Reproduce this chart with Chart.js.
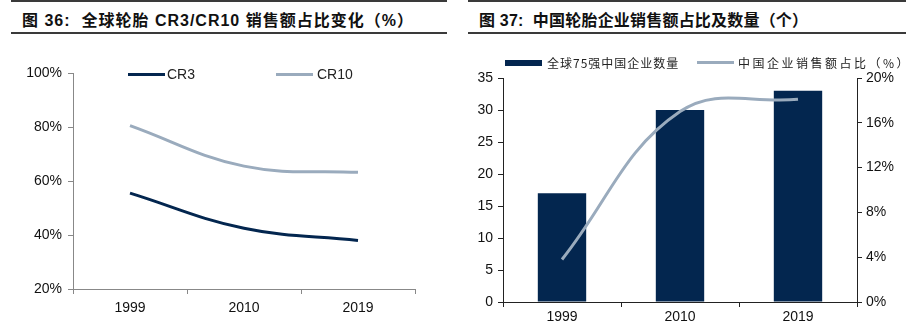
<!DOCTYPE html>
<html>
<head>
<meta charset="utf-8">
<script src="https://cdn.jsdelivr.net/npm/chart.js@4.4.1/dist/chart.umd.min.js"></script>
<style>
  body { margin: 0; background: #fff; width: 912px; height: 330px; position: relative; overflow: hidden; }
  .head {
    position: absolute; top: 0; height: 34px;
    border-top: 2px solid #3a3a3a; border-bottom: 2px solid #3a3a3a;
    font-family: "Liberation Sans", "Noto Sans CJK SC", sans-serif;
    font-weight: bold; font-size: 16px; color: #111;
    line-height: 37px; white-space: nowrap; box-sizing: border-box;
  }
  .head span { padding-left: 11px; letter-spacing: 1px; }
  .box { position: absolute; top: 40px; width: 456px; height: 290px; }
  .legend { position: absolute; display: flex; align-items: center; white-space: nowrap; }
  .legend i { display: inline-block; }
</style>
</head>
<body>
<div class="head" style="left:11px;width:436px;"><span>图 36:&nbsp; 全球轮胎 CR3/CR10 销售额占比变化（%）</span></div>
<div class="head" style="left:468px;width:438px;"><span style="letter-spacing:0.2px">图 37:&nbsp; 中国轮胎企业销售额占比及数量（个）</span></div>

<div class="box" style="left:0"><canvas id="shareChart" width="456" height="290"></canvas></div>
<div class="box" style="left:456px"><canvas id="chinaChart" width="456" height="290"></canvas></div>

<script>
// CR3 / CR10 share of global tyre sales
var years = ['1999', '2010', '2019'];
var cr3 = [55.5, 42.5, 38];
var cr10 = [80.5, 65.5, 63.2];

// Chinese firms among the global top 75
var chinaCount = [17, 30, 33];
var chinaShare = [3.8, 17, 18.1];

var Color = {
    Navy: '#03264f',
    Grey: '#9aabbd',
};

var tickFont = { family: 'Liberation Sans', size: 14 };

function fixWidth(w) {
    return function (scale) { scale.width = w; };
}
function fixHeight(h) {
    return function (scale) { scale.height = h; };
}

function renderShareChart() {
    var ctx = document.getElementById('shareChart').getContext('2d');
    new Chart(ctx, {
        type: 'line',
        data: {
            labels: years,
            datasets: [
                { label: 'CR3', data: cr3, borderColor: Color.Navy, backgroundColor: Color.Navy },
                { label: 'CR10', data: cr10, borderColor: Color.Grey, backgroundColor: Color.Grey },
            ],
        },
        options: {
            responsive: false,
            animation: false,
            devicePixelRatio: 1,
            layout: { padding: { top: 33, right: 41, left: 0, bottom: 0 } },
            elements: {
                line: { borderWidth: 3, tension: 0.4 },
                point: { radius: 0 },
            },
            plugins: { legend: { display: false }, tooltip: { enabled: false } },
            scales: {
                x: {
                    offset: true,
                    afterFit: fixHeight(41),
                    grid: { offset: true, drawOnChartArea: false, tickLength: 5, color: '#888' },
                    border: { color: '#888', width: 1 },
                    ticks: { color: '#111', font: tickFont, padding: 6, maxRotation: 0 },
                },
                y: {
                    min: 20,
                    max: 100,
                    afterFit: fixWidth(73),
                    grid: { drawOnChartArea: false, tickLength: 5, color: '#888' },
                    border: { color: '#888', width: 1 },
                    ticks: {
                        stepSize: 20, color: '#111', font: tickFont, padding: 6,
                        callback: function (v) { return v + '%'; },
                    },
                },
            },
        },
    });
}

function renderChinaChart() {
    var ctx = document.getElementById('chinaChart').getContext('2d');
    new Chart(ctx, {
        type: 'bar',
        data: {
            labels: years,
            datasets: [
                {
                    type: 'line', label: '中国企业销售额占比（%）', data: chinaShare, yAxisID: 'y2', order: 0,
                    borderColor: Color.Grey, backgroundColor: Color.Grey, borderWidth: 3, tension: 0.4, pointRadius: 0,
                },
                {
                    label: '全球75强中国企业数量', data: chinaCount, yAxisID: 'y', order: 1,
                    backgroundColor: Color.Navy, barPercentage: 0.41, categoryPercentage: 1,
                },
            ],
        },
        options: {
            responsive: false,
            animation: false,
            devicePixelRatio: 1,
            layout: { padding: { top: 38, right: 0, left: 0, bottom: 0 } },
            plugins: { legend: { display: false }, tooltip: { enabled: false } },
            scales: {
                x: {
                    afterFit: fixHeight(28),
                    grid: { offset: true, drawOnChartArea: false, tickLength: 5, color: '#222' },
                    border: { color: '#222', width: 1 },
                    ticks: { color: '#111', font: tickFont, padding: 2, maxRotation: 0 },
                },
                y: {
                    position: 'left',
                    min: 0,
                    max: 35,
                    afterFit: fixWidth(47),
                    grid: { drawOnChartArea: false, tickLength: 5, color: '#222' },
                    border: { color: '#222', width: 1 },
                    ticks: { stepSize: 5, color: '#111', font: tickFont, padding: 5 },
                },
                y2: {
                    position: 'right',
                    min: 0,
                    max: 20,
                    afterFit: fixWidth(55),
                    grid: { drawOnChartArea: false, tickLength: 5, color: '#222' },
                    border: { color: '#222', width: 1 },
                    ticks: {
                        stepSize: 4, color: '#111', font: tickFont, padding: 4,
                        callback: function (v) { return v + '%'; },
                    },
                },
            },
        },
    });
}

// legends drawn as plain html, placed inside each plot area
function legendItem(left, top, label, color, swatch, font, spacing) {
    var el = document.createElement('div');
    el.className = 'legend';
    el.style.left = left + 'px';
    el.style.top = top + 'px';
    el.style.font = font;
    el.style.letterSpacing = spacing + 'px';
    el.style.color = '#222';
    var mark = document.createElement('i');
    mark.style.width = swatch.w + 'px';
    mark.style.height = swatch.h + 'px';
    mark.style.background = color;
    mark.style.marginRight = swatch.gap + 'px';
    el.appendChild(mark);
    el.appendChild(document.createTextNode(label));
    document.body.appendChild(el);
}

function renderLegends() {
    var f1 = '14px "Liberation Sans", sans-serif';
    legendItem(128, 66, 'CR3', Color.Navy, { w: 37, h: 3, gap: 2 }, f1, 0);
    legendItem(276, 66, 'CR10', Color.Grey, { w: 37, h: 3, gap: 4 }, f1, 0);
    var f2 = '12px "Noto Sans CJK SC", sans-serif';
    legendItem(505, 54, '全球75强中国企业数量', Color.Navy, { w: 37, h: 6, gap: 5 }, f2, 1);
    legendItem(697, 54, '中国企业销售额占比（%）', Color.Grey, { w: 37, h: 3, gap: 4 }, f2, 2.5);
}

renderShareChart();
renderChinaChart();
renderLegends();
</script>
</body>
</html>
